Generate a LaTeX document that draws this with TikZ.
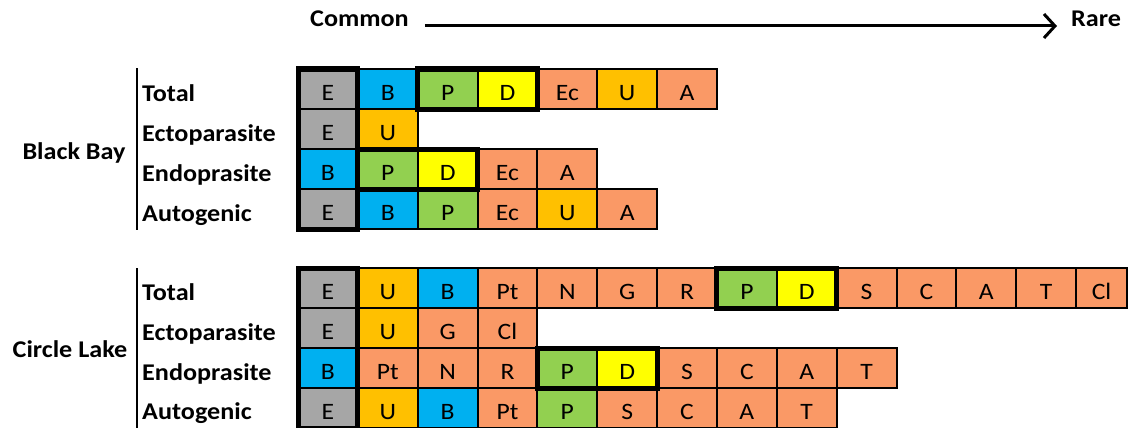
\documentclass[tikz,border=0pt]{standalone}
\usepackage{fontspec}
\setmainfont{Carlito}[FakeStretch=1.09]
\usetikzlibrary{arrows.meta}
\definecolor{cgray}{HTML}{A6A6A6}
\definecolor{cblue}{HTML}{00B0F0}
\definecolor{cgreen}{HTML}{92D050}
\definecolor{cyellow}{HTML}{FFFF00}
\definecolor{corange}{HTML}{FFC000}
\definecolor{csalmon}{HTML}{FA9966}
% one row of taxon cells, left aligned on the first column
\newcommand\cellrow[3]{%
  \foreach \lab/\col [count=\i] in {#3}{%
    \node[cell,fill=\col] (#1\i) at ({298+59.85*(\i-0.5)},{#2+20}) {\lab};
  }}
\begin{document}
\begin{tikzpicture}[x=1pt,y=-1pt,
  cell/.style={draw=black,line width=2pt,minimum width=59.85pt,minimum height=40pt,
    inner sep=0pt,outer sep=0pt,text height=22.6pt,text depth=0pt,
    font=\fontsize{23.5}{23.5}\selectfont},
  lbl/.style={anchor=base west,inner sep=0pt,font=\bfseries\fontsize{24}{24}\selectfont},
  site/.style={anchor=base,inner sep=0pt,font=\bfseries\fontsize{24}{24}\selectfont},
  hilite/.style={draw=black,line width=5pt},
  bar/.style={line width=1.6pt}]
\useasboundingbox (0,0) rectangle (1129,428);

% scale header
\node[site,anchor=base west] (common) at (310,27) {Common};
\node[site,anchor=base west] (rare) at (1071,27) {Rare};
\draw[line width=3pt,-{Straight Barb[length=11pt,width=24pt,line width=3pt]}]
  ([xshift=16pt,yshift=1pt]common.base east) -- ([xshift=-14pt,yshift=1pt]rare.base west);

% ---------------- Black Bay ----------------
\node[site] (bb) at (74,159) {Black Bay};
\coordinate (bbtop) at (137,68);
\coordinate (bbbot) at (137,230);
\draw[bar] (bbtop) -- (bbbot);
\node[lbl] (bbl1) at (142,101) {Total};
\node[lbl] (bbl2) at (142,141) {Ectoparasite};
\node[lbl] (bbl3) at (142,181) {Endoprasite};
\node[lbl] (bbl4) at (142,221) {Autogenic};

\cellrow{bbT}{69}{E/cgray,B/cblue,P/cgreen,D/cyellow,Ec/csalmon,U/corange,A/csalmon}
\cellrow{bbX}{109}{E/cgray,U/corange}
\cellrow{bbN}{149}{B/cblue,P/cgreen,D/cyellow,Ec/csalmon,A/csalmon}
\cellrow{bbA}{189}{E/cgray,B/cblue,P/cgreen,Ec/csalmon,U/corange,A/csalmon}

\draw[hilite] (bbT1.north west) rectangle (bbA1.south east);
\draw[hilite] (bbT3.north west) rectangle (bbT4.south east);
\draw[hilite] (bbN2.north west) rectangle (bbN3.south east);

% ---------------- Circle Lake ----------------
\node[site] (cl) at (70,357) {Circle Lake};
\coordinate (cltop) at (137,268);
\coordinate (clbot) at (137,428);
\draw[bar] (cltop) -- (clbot);
\node[lbl] (cll1) at (142,300) {Total};
\node[lbl] (cll2) at (142,340) {Ectoparasite};
\node[lbl] (cll3) at (142,380) {Endoprasite};
\node[lbl] (cll4) at (142,419) {Autogenic};

\cellrow{clT}{268}{E/cgray,U/corange,B/cblue,Pt/csalmon,N/csalmon,G/csalmon,R/csalmon,P/cgreen,D/cyellow,S/csalmon,C/csalmon,A/csalmon,T/csalmon}
\node[cell,fill=csalmon,minimum width=51pt] (clT14) at ({298+59.85*13+25.5},288) {Cl};
\cellrow{clX}{308}{E/cgray,U/corange,G/csalmon,Cl/csalmon}
\cellrow{clN}{348}{B/cblue,Pt/csalmon,N/csalmon,R/csalmon,P/cgreen,D/cyellow,S/csalmon,C/csalmon,A/csalmon,T/csalmon}
\cellrow{clA}{388}{E/cgray,U/corange,B/cblue,Pt/csalmon,P/cgreen,S/csalmon,C/csalmon,A/csalmon,T/csalmon}

\draw[hilite] (clT1.north west) rectangle (clA1.south east);
\draw[hilite] (clT8.north west) rectangle (clT9.south east);
\draw[hilite] (clN5.north west) rectangle (clN6.south east);
\end{tikzpicture}
\end{document}
